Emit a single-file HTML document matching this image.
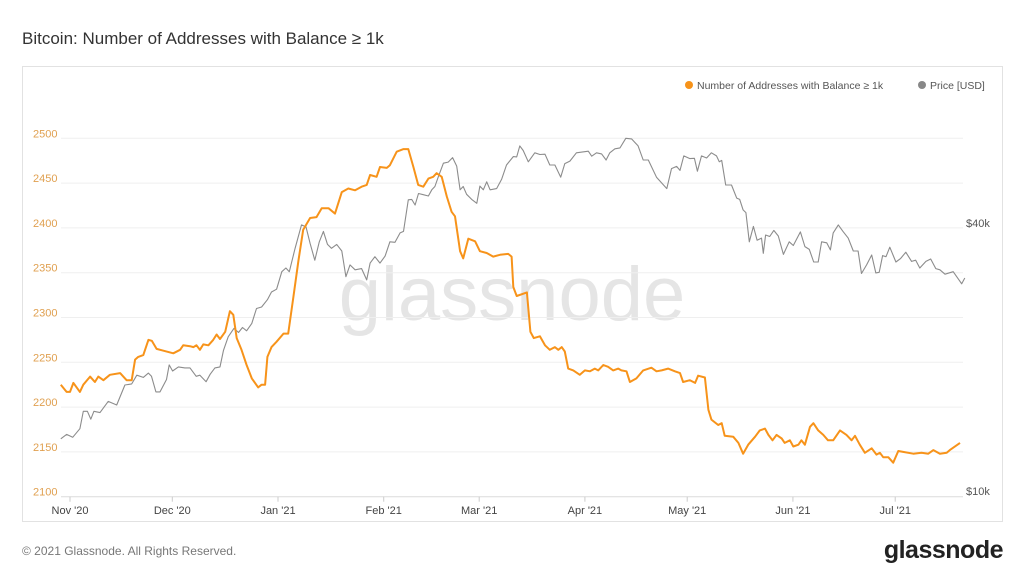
<!DOCTYPE html>
<html><head><meta charset="utf-8"><style>
body{margin:0;background:#fff;font-family:"Liberation Sans",sans-serif;}
#wrap{position:relative;width:1024px;height:576px;overflow:hidden;background:#fff;}
</style></head><body>
<div id="wrap">
<svg id="svg" width="1024" height="576" xmlns="http://www.w3.org/2000/svg">
<text x="22" y="44" font-size="17" fill="#333" font-family="Liberation Sans, sans-serif">Bitcoin: Number of Addresses with Balance ≥ 1k</text>
<rect x="22.5" y="66.5" width="980" height="455" fill="none" stroke="#e2e2e2"/>
<text x="512" y="320" font-size="76" fill="#e5e5e5" text-anchor="middle" font-family="Liberation Sans, sans-serif">glassnode</text>
<g>
<circle cx="689" cy="85" r="4" fill="#f7931a"/>
<text x="697" y="89" font-size="10.5" fill="#555">Number of Addresses with Balance ≥ 1k</text>
<circle cx="922" cy="85" r="4" fill="#888"/>
<text x="930" y="89" font-size="10.5" fill="#555">Price [USD]</text>
</g>
<text x="22" y="555" font-size="12" fill="#777">© 2021 Glassnode. All Rights Reserved.</text>
<text x="1003" y="558" font-size="25" fill="#222" text-anchor="end" font-weight="bold" letter-spacing="-0.5">glassnode</text>
<g id="grid"></g><g id="axes"></g><g id="series"></g>
</svg>
</div>
<script>
const yTicks=[2100,2150,2200,2250,2300,2350,2400,2450,2500];
const monthLabels=["Nov '20","Dec '20","Jan '21","Feb '21","Mar '21","Apr '21","May '21","Jun '21","Jul '21"];
const monthDays=[0,30,61,92,120,151,181,212,242];
const priceTicks=[10,40];
const priceTickLabels=["$10k","$40k"];
const addrDays=[-2.7,-1,0,1,2.9,3.9,5.9,7.3,8.3,9.8,11.7,14.7,16.6,18.1,19.1,20,21.5,23,24,25.4,27.4,30.3,32.3,33.2,35.2,36.2,37.1,38.1,39.1,40.6,42,43,44,45.5,46.9,47.9,48.9,50.3,51.8,53.3,55.2,56.2,57.2,57.9,59.1,60.6,62.6,64,65.5,67,68.4,70.4,72.3,73.8,75.8,77.7,79.7,81.6,83.6,85.5,87,88,89.9,90.9,92.9,93.8,95.8,97.8,99.2,100.7,102.1,103.6,105.1,106.5,107.5,109,110.5,111.9,112.9,114.4,115.3,116.8,118.8,120.2,122.2,124.1,126.1,
128.5,129.5,130,131,134,135,136,137.8,139.3,140.7,142.2,143.2,144.2,145.1,146.1,147.6,149.5,151,152.5,153.9,154.9,156.4,157.8,159.3,160.8,161.7,163.2,164.2,166.1,168.1,170.5,172,173.5,175.4,177.4,178.9,179.8,181.8,183.3,184.2,186.2,187.2,188.1,190.1,191.1,192,194.5,196,197.4,198.9,200.9,202.3,203.8,204.8,206,207.2,208.7,209.6,211.1,212.1,213.6,214.5,215.5,217,218,219.4,220.9,222.3,223.8,225.8,227.7,229.2,230.2,231.6,233.1,235.1,236.5,237.5,238.5,240,241.4,242.9,244.3,247.3,249.7,251.7,253.2,255.1,257.1,258,261];
const addrValues=[2225,2217,2217,2227,2217,2225,2234,2228,2234,2230,2236,2238,2230,2230,2253,2256,2258,2275,2274,2265,2263,2260,2264,2269,2268,2267,2269,2264,2270,2269,2275,2281,2276,2284,2307,2303,2277,2264,2247,2232,2222,2225,2225,2256,2267,2273,2282,2282,2323,2364,2398,2411,2412,2422,2422,2416,2440,2444,2442,2446,2448,2459,2457,2468,2467,2470,2485,2488,2488,2468,2448,2446,2455,2457,2461,2457,2435,2418,2413,2374,2366,2388,2385,2374,2372,2368,2370,
2371,2368,2334,2324,2328,2284,2277,2279,2269,2264,2267,2264,2267,2262,2243,2241,2236,2241,2240,2243,2241,2247,2245,2241,2243,2241,2240,2228,2232,2241,2244,2240,2241,2243,2240,2238,2228,2230,2227,2235,2233,2197,2186,2180,2182,2168,2167,2160,2148,2158,2167,2174,2176,2169,2163,2169,2165,2160,2163,2156,2158,2163,2158,2178,2182,2174,2169,2163,2163,2174,2169,2163,2168,2158,2149,2154,2147,2149,2144,2144,2138,2151,2150,2148,2149,2148,2152,2148,2149,2152,2160];
const priceDays=[-2.7,-1,0.8,2.9,3.9,5.1,6.1,7,8.8,11.2,13.7,16.1,18.1,19.6,21.5,23,23.9,25.2,26.4,28.3,29.1,30.1,31.8,33.7,35.2,37,38.1,39.9,41.1,42.5,44,45,46.4,48.1,49.4,50.6,51.8,53.3,54.7,56.2,57.9,59.1,60.6,62.1,63.3,64.3,66,67.9,69.2,70.4,71.8,73.1,74.3,75.5,76.7,78.2,79.7,80.9,82.1,83.6,85.5,87,88,89.4,90.9,92.4,93.8,95.3,96.8,97.8,99.2,100.2,101.2,102.2,103.6,105.1,106.1,107,108,109.5,110.9,112.2,113.4,114.4,115.3,116.3,117.8,119.3,120.2,121.2,122.2,123.2,125.1,126.6,
128,130,131,131.9,132.9,134.4,136.3,137.8,139.3,140.7,142.2,143.9,145.1,146.6,148.5,152,153,154.4,155.9,157.2,158.3,159.8,161.3,163,164.7,166.6,168.1,169.6,172,175,176.4,177.9,178.9,180,181.8,183.1,184,185.2,186.7,188.1,189.6,190.4,191.1,192.3,194,195.5,196.4,197.4,198.2,199.2,200.4,201.5,202.8,203.3,204,205.2,206.4,207.7,209.2,210.9,212.1,214.2,215.5,216.8,218.1,219.4,220.4,221.9,223,223.8,225.3,226.7,228.2,229.7,231.1,232.1,233.6,235.1,236.3,237.3,238.3,239.3,240.4,242.2,243.6,245.1,246.8,248,249.2,251,252.4,253.9,255.1,256.6,259,261.5,262.4];
const priceValues=[13.1,13.4,13.2,13.8,15.1,15.1,14.5,15.1,15.0,15.9,15.6,17.3,17.4,18.2,18.0,18.4,18.1,16.7,16.7,17.8,19.2,18.6,19.0,18.9,18.9,18.1,18.2,17.6,18.3,18.9,19.0,20.7,22.2,23.2,22.7,23.3,22.9,23.8,25.7,25.9,26.9,28.0,28.4,31.1,31.7,31.1,35.1,39.6,39.2,36.0,33.0,36.3,38.3,35.8,35.1,35.8,34.6,30.3,32.2,31.4,31.6,29.8,32.5,33.6,32.5,33.7,36.3,36.2,38.0,38.3,45.1,45.2,43.9,46.6,46.3,46.0,47.5,48.3,50.8,54.5,54.8,56.1,53.7,47.5,48.3,46.4,45.2,44.3,48.4,47.5,49.5,47.5,47.8,50.2,
54.0,56.4,56.3,59.6,58.2,54.9,57.5,57.0,57.1,54.0,54.0,50.7,54.4,55.1,57.5,58.0,56.5,57.5,57.2,55.4,57.5,58.7,59.0,62.0,61.8,59.6,55.4,55.4,50.7,47.8,53.0,53.6,52.5,56.6,55.8,55.9,52.3,56.6,56.0,57.5,56.6,54.9,55.3,48.7,48.7,45.5,45.2,42.8,42.2,36.3,39.3,36.6,37.0,34.2,37.6,37.3,38.5,37.4,34.0,36.3,35.6,38.2,35.4,34.9,32.7,32.7,36.3,36.1,34.8,38.0,39.6,38.3,37.0,34.6,34.6,30.8,32.2,33.9,30.9,31.0,33.8,33.6,35.3,32.7,33.3,34.4,32.8,33.0,31.7,32.8,33.2,31.6,31.4,30.7,31.1,29.2,30.1];

const NS="http://www.w3.org/2000/svg";
const X0=61,X1=963;
function xDay(d){return 70+3.41*d;}
function yAddr(v){return 138.3+(2500-v)*0.896;}
function yPrice(p){return 491-268*Math.log(p/10)/Math.log(4);}
function mk(tag,attrs,parent){const e=document.createElementNS(NS,tag);for(const k in attrs)e.setAttribute(k,attrs[k]);parent.appendChild(e);return e;}
const grid=document.getElementById('grid'),axes=document.getElementById('axes'),series=document.getElementById('series');
yTicks.forEach(function(v){
  const yy=yAddr(v);
  const l=mk('line',{x1:X0,x2:X1,y1:yy,y2:yy,stroke:v===2100?'#dcdcdc':'#efefef','stroke-width':1},grid);
  
  
  const t=mk('text',{x:33,y:yy-1,'font-size':11,fill:'#e0a050'},axes);
  t.textContent=v;
  
  
});
priceTicks.forEach(function(p,i){
  const t=mk('text',{x:966,y:yPrice(p)+4,'font-size':11,fill:'#555'},axes);
  t.textContent=priceTickLabels[i];
  
  
});
monthDays.forEach(function(d,i){
  const xx=xDay(d);
  const tk=mk('line',{x1:xx,x2:xx,y1:yAddr(2100),y2:yAddr(2100)+5,stroke:'#ccc'},axes);
  
  
  const t=mk('text',{x:xx,y:514,'font-size':11,fill:'#444','text-anchor':'middle'},axes);
  t.textContent=monthLabels[i];
  
  
});
let pp='';priceDays.forEach(function(d,i){pp+=(i?'L':'M')+xDay(d).toFixed(1)+','+yPrice(priceValues[i]).toFixed(1);});
const gl=mk('path',{d:pp,fill:'none',stroke:'#8c8c8c','stroke-width':1.1,'stroke-linejoin':'round'},series);


let ap='';addrDays.forEach(function(d,i){ap+=(i?'L':'M')+xDay(d).toFixed(1)+','+yAddr(addrValues[i]).toFixed(1);});
const ol=mk('path',{d:ap,fill:'none',stroke:'#f7931a','stroke-width':2,'stroke-linejoin':'round'},series);


</script>
</body></html>
